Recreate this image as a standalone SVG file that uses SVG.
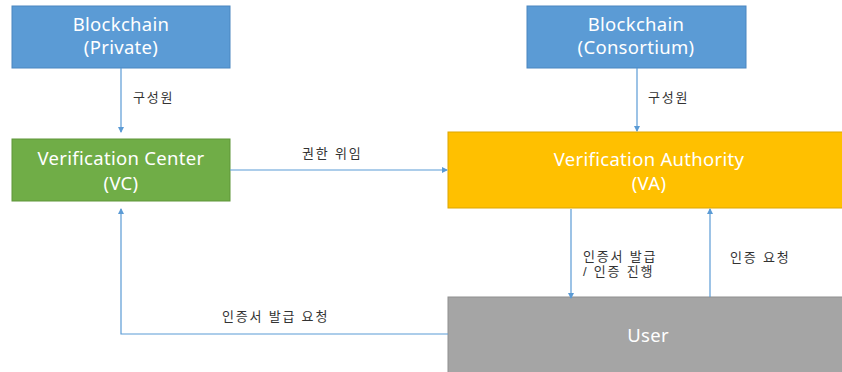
<svg xmlns="http://www.w3.org/2000/svg" width="842" height="372" viewBox="0 0 842 372">
<defs>
<marker id="ah" markerWidth="6" markerHeight="6" refX="5" refY="3" orient="auto" markerUnits="userSpaceOnUse">
<path d="M0,0 L6,3 L0,6 Z" fill="#5B9BD5"/>
</marker>
<style>
.box-t{font-family:"Noto Sans","Noto Sans CJK KR",sans-serif;font-size:18.5px;fill:#fff;text-anchor:middle;letter-spacing:0.3px}
.lbl{font-family:"Liberation Sans","Noto Sans CJK KR",sans-serif;font-size:13px;fill:#333;letter-spacing:1.8px}
.con{stroke:#5B9BD5;stroke-width:1.2;fill:none;marker-end:url(#ah)}
</style>
</defs>
<rect width="842" height="372" fill="#fff"/>
<g id="bc-private">
<rect x="12" y="6" width="218" height="62" fill="#5B9BD5" stroke="#4A86C0" stroke-width="1"/>
<text class="box-t" x="121" y="31">Blockchain</text>
<text class="box-t" x="121" y="54">(Private)</text>
</g>
<g id="bc-consortium">
<rect x="527" y="6" width="219" height="62" fill="#5B9BD5" stroke="#4A86C0" stroke-width="1"/>
<text class="box-t" x="636" y="31">Blockchain</text>
<text class="box-t" x="636" y="54">(Consortium)</text>
</g>
<g id="vc">
<rect x="12" y="139" width="218" height="62" fill="#70AD47" stroke="#5E9538" stroke-width="1"/>
<text class="box-t" x="121" y="165">Verification Center</text>
<text class="box-t" x="121" y="190">(VC)</text>
</g>
<g id="va">
<rect x="448" y="132" width="400" height="76" fill="#FFC000" stroke="#DDA600" stroke-width="1"/>
<text class="box-t" x="649" y="166">Verification Authority</text>
<text class="box-t" x="649" y="190">(VA)</text>
</g>
<g id="user">
<rect x="448" y="297" width="400" height="80" fill="#A5A5A5" stroke="#909090" stroke-width="1"/>
<text class="box-t" x="648" y="342">User</text>
</g>
<g id="connectors">
<path class="con" d="M121,68 V132"/>
<path class="con" d="M637,68 V131"/>
<path class="con" d="M230,170 H447"/>
<path class="con" d="M571,209 V298"/>
<path class="con" d="M710,297 V209"/>
<path class="con" d="M448,334 H121 V209"/>
<text class="lbl" x="133" y="102">구성원</text>
<text class="lbl" x="648" y="102">구성원</text>
<text class="lbl" x="302" y="158">권한 위임</text>
<text class="lbl" x="583" y="261">인증서 발급</text>
<text class="lbl" x="583" y="276">/ 인증 진행</text>
<text class="lbl" x="730" y="262">인증 요청</text>
<text class="lbl" x="222" y="321">인증서 발급 요청</text>
</g>
</svg>
